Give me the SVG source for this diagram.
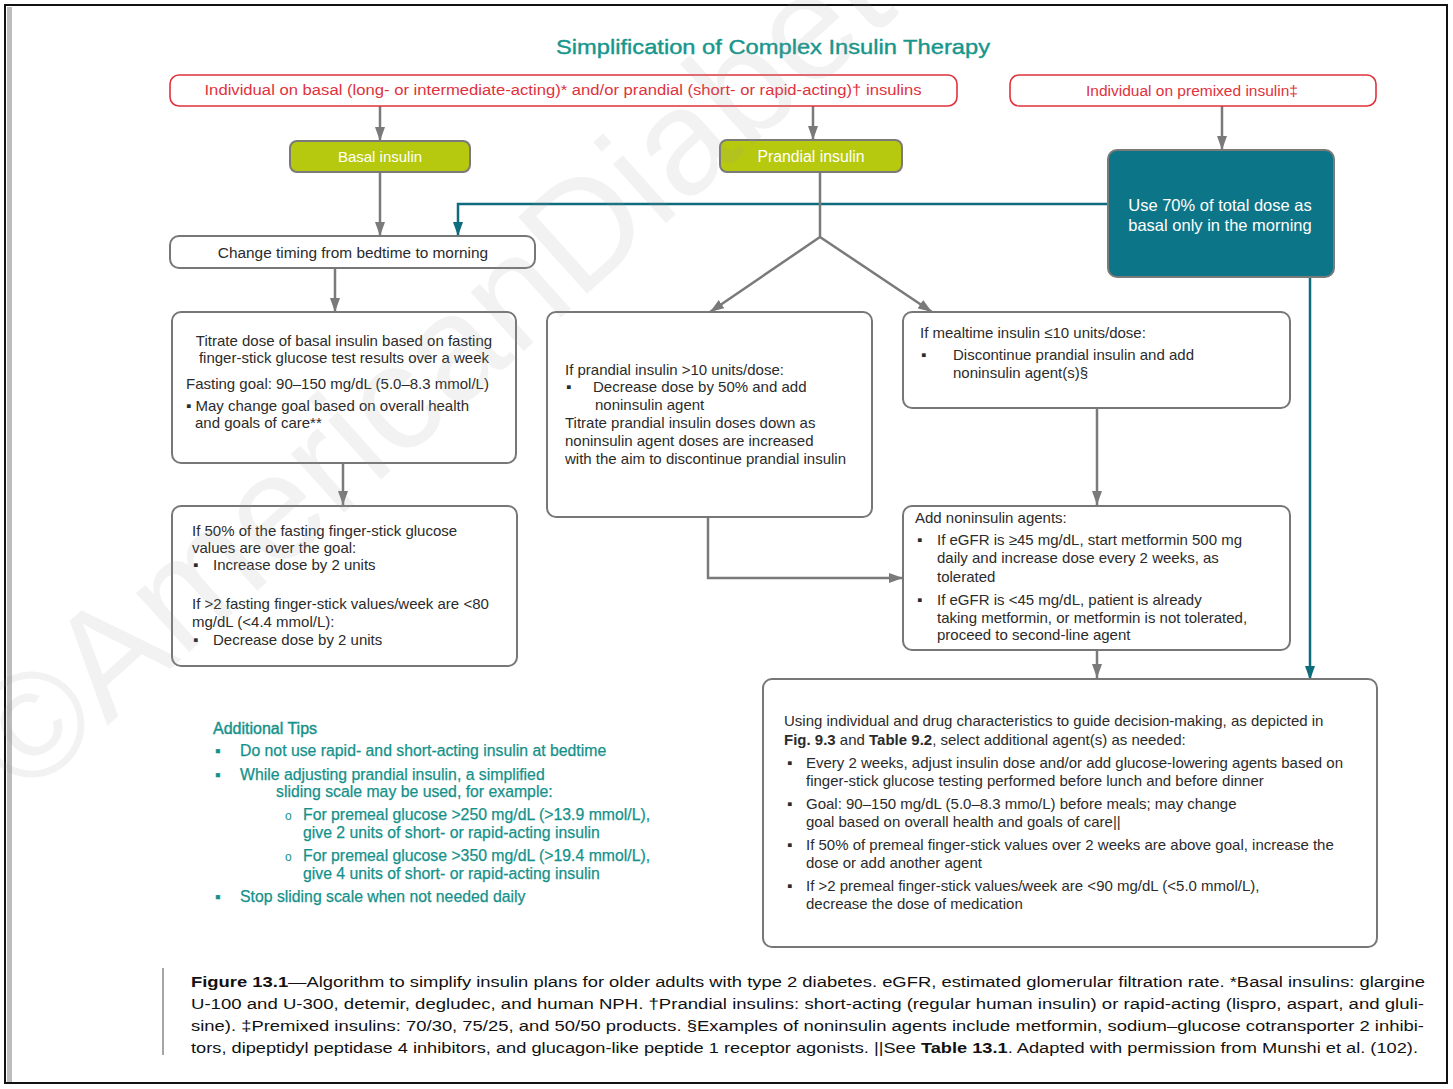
<svg xmlns="http://www.w3.org/2000/svg" width="1453" height="1089" viewBox="0 0 1453 1089">
<defs>
<style>
text{font-family:"Liberation Sans",Arial,sans-serif;}
.t{font-size:15px;fill:#2b2b2b;}
.red{font-size:14px;fill:#e0323c;}
.wh{font-size:15px;fill:#ffffff;}
.tip{font-size:15.8px;fill:#14918a;stroke:#14918a;stroke-width:0.25;}
.cap{font-size:15.5px;fill:#111;}
.box{fill:#ffffff;stroke:#777777;stroke-width:2;}
.rbox{fill:#ffffff;stroke:#e0323c;stroke-width:1.6;}
.gbox{fill:#b6c90e;stroke:#7a7a7a;stroke-width:2;}
.tbox{fill:#0d7588;stroke:#7a7a7a;stroke-width:2;}
.ga{fill:none;stroke:#7a7a7a;stroke-width:2.5;}
.ta{fill:none;stroke:#0e6c7c;stroke-width:2.5;}
</style>
<marker id="mg" viewBox="0 0 14 10" refX="14" refY="5" markerWidth="14" markerHeight="10" markerUnits="userSpaceOnUse" orient="auto"><path d="M0,0 L14,5 L0,10 z" fill="#7a7a7a"/></marker>
<marker id="mt" viewBox="0 0 14 10" refX="14" refY="5" markerWidth="14" markerHeight="10" markerUnits="userSpaceOnUse" orient="auto"><path d="M0,0 L14,5 L0,10 z" fill="#0e6c7c"/></marker>
</defs>
<rect x="0" y="0" width="1453" height="1089" fill="#ffffff"/>
<rect x="7" y="7" width="5" height="1076" fill="#bdbdbd"/>
<rect x="5" y="5" width="1442" height="1078" fill="none" stroke="#111" stroke-width="2"/>

<text x="773" y="54" text-anchor="middle" style="font-size:21px;fill:#17968c;stroke:#17968c;stroke-width:0.4" textLength="434" lengthAdjust="spacingAndGlyphs">Simplification of Complex Insulin Therapy</text>

<g id="connectors">
<path class="ga" d="M380,106 V141" marker-end="url(#mg)"/>
<path class="ga" d="M813,106 V140" marker-end="url(#mg)"/>
<path class="ga" d="M1222,106 V150" marker-end="url(#mg)"/>
<path class="ga" d="M380,172 V236" marker-end="url(#mg)"/>
<path class="ta" d="M1108,204 H458 V236" marker-end="url(#mt)"/>
<path class="ta" d="M1310,277 V680" marker-end="url(#mt)"/>
<path class="ga" d="M335,268 V312" marker-end="url(#mg)"/>
<path class="ga" d="M343,463 V505" marker-end="url(#mg)"/>
<path class="ga" d="M820,172 V237"/>
<path class="ga" d="M820,237 L710,312" marker-end="url(#mg)"/>
<path class="ga" d="M820,237 L932,312" marker-end="url(#mg)"/>
<path class="ga" d="M1097,408 V505" marker-end="url(#mg)"/>
<path class="ga" d="M708,517 V578 H903" marker-end="url(#mg)"/>
<path class="ga" d="M1097,650 V678" marker-end="url(#mg)"/>
</g>

<g id="n-basal-prandial-start">
<rect class="rbox" x="170" y="75" width="787" height="31" rx="9"/>
<text class="red" x="563" y="95" text-anchor="middle" textLength="717" lengthAdjust="spacingAndGlyphs">Individual on basal (long- or intermediate-acting)* and/or prandial (short- or rapid-acting)† insulins</text>
</g>
<g id="n-premixed-start">
<rect class="rbox" x="1010" y="75" width="366" height="31" rx="9"/>
<text class="red" x="1192" y="96" text-anchor="middle" style="font-size:15.5px">Individual on premixed insulin‡</text>
</g>
<g id="n-basal">
<rect class="gbox" x="290" y="141" width="180" height="31" rx="7"/>
<text class="wh" x="380" y="162" text-anchor="middle">Basal insulin</text>
</g>
<g id="n-prandial">
<rect class="gbox" x="720" y="140" width="182" height="32" rx="7"/>
<text class="wh" x="811" y="162" text-anchor="middle" style="font-size:15.8px">Prandial insulin</text>
</g>
<g id="n-premixed-70">
<rect class="tbox" x="1108" y="150" width="226" height="127" rx="9"/>
<text class="wh" x="1220" y="211" text-anchor="middle" style="font-size:16.5px">Use 70% of total dose as</text>
<text class="wh" x="1220" y="231" text-anchor="middle" style="font-size:16.5px">basal only in the morning</text>
</g>
<g id="n-change-timing">
<rect class="box" x="170" y="236" width="365" height="32" rx="9"/>
<text class="t" x="353" y="258" text-anchor="middle" style="font-size:15.4px">Change timing from bedtime to morning</text>
</g>
<g id="n-titrate-basal">
<rect class="box" x="172" y="312" width="344" height="151" rx="9"/>
<text class="t" x="344" y="346" text-anchor="middle">Titrate dose of basal insulin based on fasting</text>
<text class="t" x="344" y="363" text-anchor="middle">finger-stick glucose test results over a week</text>
<text class="t" x="186" y="389">Fasting goal: 90–150 mg/dL (5.0–8.3 mmol/L)</text>
<text class="t" x="186" y="411">▪ May change goal based on overall health</text>
<text class="t" x="195" y="428">and goals of care**</text>
</g>
<g id="n-basal-adjust">
<rect class="box" x="172" y="506" width="345" height="160" rx="9"/>
<text class="t" x="192" y="536">If 50% of the fasting finger-stick glucose</text>
<text class="t" x="192" y="553">values are over the goal:</text>
<text class="t" x="193" y="570">▪</text>
<text class="t" x="213" y="570">Increase dose by 2 units</text>
<text class="t" x="192" y="609">If &gt;2 fasting finger-stick values/week are &lt;80</text>
<text class="t" x="192" y="627">mg/dL (&lt;4.4 mmol/L):</text>
<text class="t" x="193" y="645">▪</text>
<text class="t" x="213" y="645">Decrease dose by 2 units</text>
</g>
<g id="n-prandial-high">
<rect class="box" x="547" y="312" width="325" height="205" rx="9"/>
<text class="t" x="565" y="375">If prandial insulin &gt;10 units/dose:</text>
<text class="t" x="566" y="392">▪</text>
<text class="t" x="593" y="392">Decrease dose by 50% and add</text>
<text class="t" x="595" y="410">noninsulin agent</text>
<text class="t" x="565" y="428">Titrate prandial insulin doses down as</text>
<text class="t" x="565" y="446">noninsulin agent doses are increased</text>
<text class="t" x="565" y="464">with the aim to discontinue prandial insulin</text>
</g>
<g id="n-prandial-low">
<rect class="box" x="903" y="312" width="387" height="96" rx="9"/>
<text class="t" x="920" y="338">If mealtime insulin ≤10 units/dose:</text>
<text class="t" x="921" y="360">▪</text>
<text class="t" x="953" y="360">Discontinue prandial insulin and add</text>
<text class="t" x="953" y="378">noninsulin agent(s)§</text>
</g>
<g id="n-add-noninsulin">
<rect class="box" x="903" y="506" width="387" height="144" rx="9"/>
<text class="t" x="915" y="523">Add noninsulin agents:</text>
<text class="t" x="917" y="545">▪</text>
<text class="t" x="937" y="545">If eGFR is ≥45 mg/dL, start metformin 500 mg</text>
<text class="t" x="937" y="563">daily and increase dose every 2 weeks, as</text>
<text class="t" x="937" y="582">tolerated</text>
<text class="t" x="917" y="605">▪</text>
<text class="t" x="937" y="605">If eGFR is &lt;45 mg/dL, patient is already</text>
<text class="t" x="937" y="623">taking metformin, or metformin is not tolerated,</text>
<text class="t" x="937" y="640">proceed to second-line agent</text>
</g>
<g id="n-additional-agents">
<rect class="box" x="763" y="679" width="614" height="268" rx="9"/>
<text class="t" x="784" y="726">Using individual and drug characteristics to guide decision-making, as depicted in</text>
<text class="t" x="784" y="745"><tspan font-weight="bold">Fig. 9.3</tspan> and <tspan font-weight="bold">Table 9.2</tspan>, select additional agent(s) as needed:</text>
<text class="t" x="787" y="768">▪</text>
<text class="t" x="806" y="768">Every 2 weeks, adjust insulin dose and/or add glucose-lowering agents based on</text>
<text class="t" x="806" y="786">finger-stick glucose testing performed before lunch and before dinner</text>
<text class="t" x="787" y="809">▪</text>
<text class="t" x="806" y="809">Goal: 90–150 mg/dL (5.0–8.3 mmo/L) before meals; may change</text>
<text class="t" x="806" y="827">goal based on overall health and goals of care||</text>
<text class="t" x="787" y="850">▪</text>
<text class="t" x="806" y="850">If 50% of premeal finger-stick values over 2 weeks are above goal, increase the</text>
<text class="t" x="806" y="868">dose or add another agent</text>
<text class="t" x="787" y="891">▪</text>
<text class="t" x="806" y="891">If &gt;2 premeal finger-stick values/week are &lt;90 mg/dL (&lt;5.0 mmol/L),</text>
<text class="t" x="806" y="909">decrease the dose of medication</text>
</g>
<g id="n-additional-tips">
<text class="tip" x="213" y="734" style="font-size:16px;stroke-width:0.4">Additional Tips</text>
<text class="tip" x="215" y="756">▪</text>
<text class="tip" x="240" y="756">Do not use rapid- and short-acting insulin at bedtime</text>
<text class="tip" x="215" y="780">▪</text>
<text class="tip" x="240" y="780">While adjusting prandial insulin, a simplified</text>
<text class="tip" x="276" y="797">sliding scale may be used, for example:</text>
<text class="tip" x="285" y="820" style="font-size:12px;stroke-width:0">o</text>
<text class="tip" x="303" y="820">For premeal glucose &gt;250 mg/dL (&gt;13.9 mmol/L),</text>
<text class="tip" x="303" y="838">give 2 units of short- or rapid-acting insulin</text>
<text class="tip" x="285" y="861" style="font-size:12px;stroke-width:0">o</text>
<text class="tip" x="303" y="861">For premeal glucose &gt;350 mg/dL (&gt;19.4 mmol/L),</text>
<text class="tip" x="303" y="879">give 4 units of short- or rapid-acting insulin</text>
<text class="tip" x="215" y="902">▪</text>
<text class="tip" x="240" y="902">Stop sliding scale when not needed daily</text>
</g>

<g id="caption">
<line x1="163" y1="968" x2="163" y2="1055" stroke="#888" stroke-width="1.5"/>
<text class="cap" x="191" y="987" textLength="1234" lengthAdjust="spacingAndGlyphs"><tspan font-weight="bold">Figure 13.1</tspan>—Algorithm to simplify insulin plans for older adults with type 2 diabetes. eGFR, estimated glomerular filtration rate. *Basal insulins: glargine</text>
<text class="cap" x="191" y="1009" textLength="1233" lengthAdjust="spacingAndGlyphs">U-100 and U-300, detemir, degludec, and human NPH. †Prandial insulins: short-acting (regular human insulin) or rapid-acting (lispro, aspart, and gluli-</text>
<text class="cap" x="191" y="1031" textLength="1233" lengthAdjust="spacingAndGlyphs">sine). ‡Premixed insulins: 70/30, 75/25, and 50/50 products. §Examples of noninsulin agents include metformin, sodium–glucose cotransporter 2 inhibi-</text>
<text class="cap" x="191" y="1053" textLength="1227" lengthAdjust="spacingAndGlyphs">tors, dipeptidyl peptidase 4 inhibitors, and glucagon-like peptide 1 receptor agonists. ||See <tspan font-weight="bold">Table 13.1</tspan>. Adapted with permission from Munshi et al. (102).</text>
</g>

<g id="watermark">
<text x="0" y="0" transform="translate(25,800) rotate(-42)" style="font-size:150px;fill:#9a9a9a;fill-opacity:0.13">©AmericanDiabetes</text>
</g>
</svg>
